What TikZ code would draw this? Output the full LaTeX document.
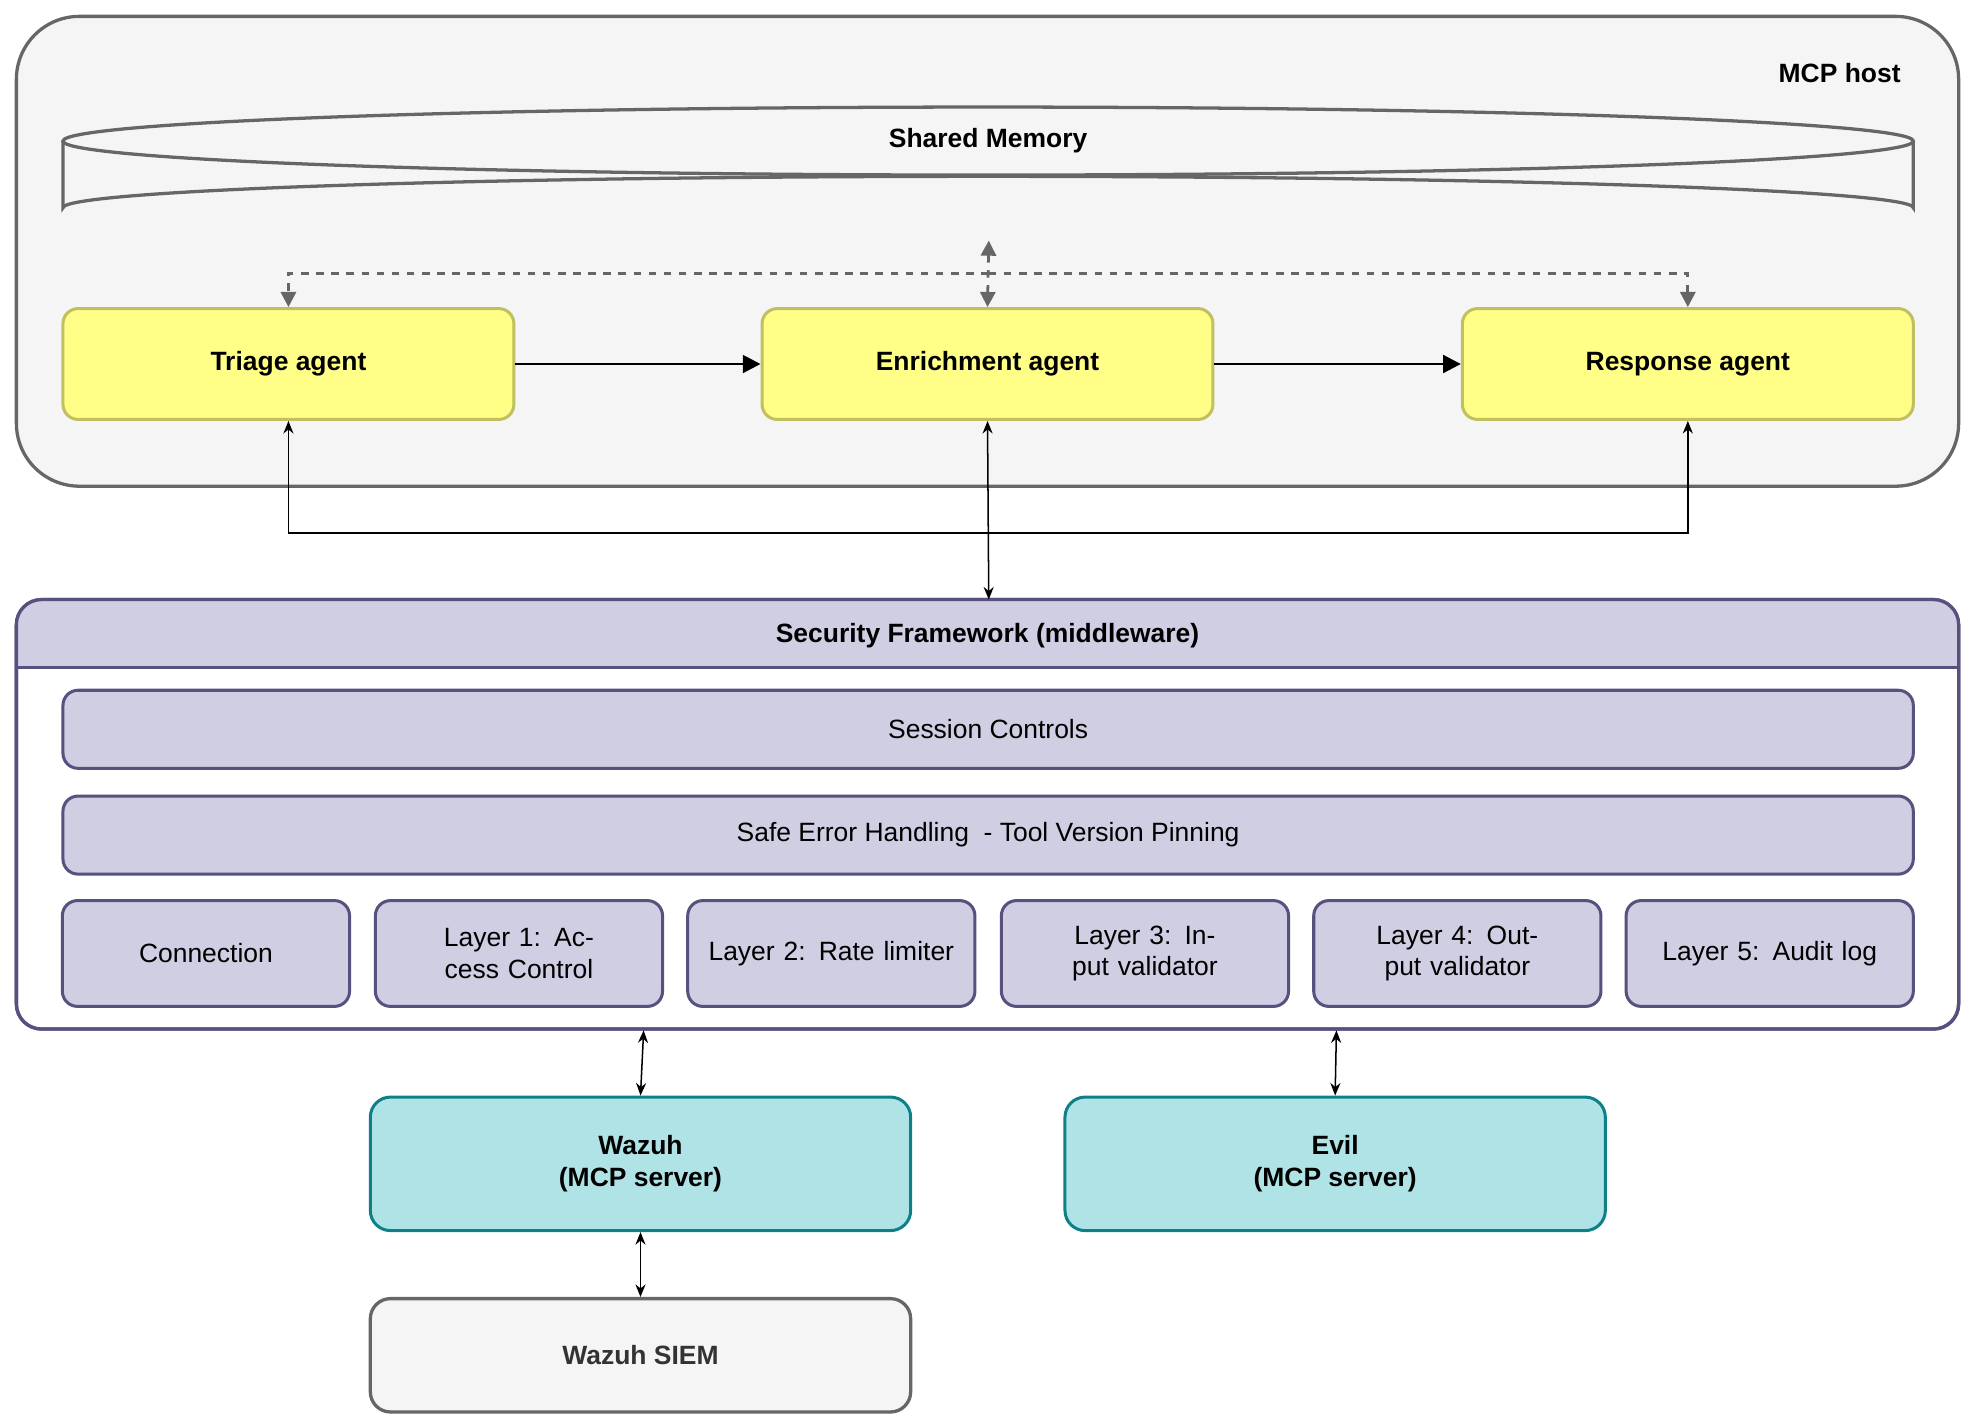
\documentclass[tikz,border=0pt]{standalone}
\usepackage{fontspec}
\setmainfont{Liberation Sans}
\usepackage{tikz}
\usetikzlibrary{positioning,calc,arrows.meta}
\definecolor{hostgray}{HTML}{F5F5F5}
\definecolor{linegray}{HTML}{666666}
\definecolor{agentfill}{HTML}{FFFF88}
\definecolor{agentdraw}{HTML}{C0C060}
\definecolor{secfill}{HTML}{D0CEE2}
\definecolor{secdraw}{HTML}{56517E}
\definecolor{srvfill}{HTML}{B0E3E6}
\definecolor{srvdraw}{HTML}{0E8088}
\tikzset{txt/.style={font=\fontsize{10.5}{12.5}\selectfont, align=center}}
\tikzset{agent/.style={txt, font=\fontsize{10.5}{12.5}\selectfont\bfseries, draw=agentdraw, fill=agentfill, line width=1.2pt, rounded corners=6pt, minimum width=179pt, minimum height=44pt}}
\tikzset{layer/.style={txt, draw=secdraw, fill=secfill, line width=1.2pt, rounded corners=6pt, minimum height=42pt, minimum width=114pt, text width=100pt}}
\tikzset{band/.style={txt, draw=secdraw, fill=secfill, line width=1.2pt, rounded corners=6pt, minimum height=31pt, minimum width=734.5pt}}
\tikzset{server/.style={txt, font=\fontsize{10.5}{12.5}\selectfont\bfseries, draw=srvdraw, fill=srvfill, line width=1.2pt, rounded corners=8pt, minimum width=214.5pt, minimum height=53pt}}
\tikzset{arr/.style={draw, -{Triangle[length=7pt,width=7pt]}, line width=1.1pt}}
\tikzset{arr1/.style={draw, {Stealth[length=5pt,width=4pt]}-{Stealth[length=5pt,width=4pt]}, line width=0.6pt}}
\tikzset{darr/.style={draw=linegray, dashed, line width=1.1pt, -{Triangle[length=6pt,width=6pt]}}}
\begin{document}
\begin{tikzpicture}[x=0.5pt, y=-0.5pt]
\useasboundingbox (0,0) rectangle (1568,1133);
% host
\draw[draw=linegray, fill=hostgray, line width=1.3pt, rounded corners=25pt] (13,13) rectangle (1555,386);
\node[txt, font=\fontsize{10.5}{12.5}\selectfont\bfseries, anchor=east] (host) at (1516,58) {MCP host};
% shared memory
\draw[draw=linegray, fill=hostgray, line width=1.3pt] (50,112) -- (50,165) arc[start angle=180, end angle=360, x radius=734.5, y radius=25] -- (1519,112);
\draw[draw=linegray, fill=hostgray, line width=1.3pt] (784.5,112) ellipse[x radius=734.5, y radius=27];
\node[txt, font=\fontsize{10.5}{12.5}\selectfont\bfseries] (mem) at (784.5,112) {Shared Memory};
\coordinate (memb) at (785,191);
% agents
\node[agent] (triage) at (229,289) {Triage agent};
\node[agent] (enrich) at (784,289) {Enrichment agent};
\node[agent] (resp) at (1340,289) {Response agent};
\draw[arr] (triage) -- (enrich);
\draw[arr] (enrich) -- (resp);
\draw[darr, {Triangle[length=6pt,width=6pt]}-{Triangle[length=6pt,width=6pt]}] (memb) -- (enrich.north);
\draw[darr] (785,217) -| (triage.north);
\draw[darr] (785,217) -| (resp.north);
% security framework
\draw[draw=secdraw, fill=white, line width=1.3pt, rounded corners=10pt] (13,476) rectangle (1555,817);
\path[fill=secfill, rounded corners=10pt] (13,530) -- (13,476) -- (1555,476) [sharp corners] -- (1555,530) -- cycle;
\draw[draw=secdraw, line width=1.3pt, rounded corners=10pt] (13,817) rectangle (1555,476);
\draw[draw=secdraw, line width=1.3pt] (13,530) -- (1555,530);
\node[txt, font=\fontsize{10.5}{12.5}\selectfont\bfseries] (sec) at (784,505) {Security Framework (middleware)};
\coordinate (sectop) at (785,476);
\node[band] (session) at (784.5,579) {Session Controls};
\node[band] (safe) at (784.5,663) {Safe Error Handling\ \ - Tool Version Pinning};
\node[layer] (conn) at (163.5,757) {Connection};
\node[layer] (l1) at (412,757) {Layer 1: Access Control};
\node[layer] (l2) at (660,757) {Layer 2: Rate limiter};
\node[layer] (l3) at (909,757) {Layer 3: Input validator};
\node[layer] (l4) at (1157,757) {Layer 4: Output validator};
\node[layer] (l5) at (1405,757) {Layer 5: Audit log};
% agent links
\draw[arr1] (enrich.south) -- (sectop);
\draw[arr1] (triage.south) |- (785,423) -| (resp.south);
% servers
\node[server] (wazuh) at (508.5,924) {Wazuh\\(MCP server)};
\node[server] (evil) at (1060,924) {Evil\\(MCP server)};
\node[txt, font=\fontsize{10.5}{12.5}\selectfont\bfseries, text=black!80, draw=linegray, fill=hostgray, line width=1.3pt, rounded corners=8pt, minimum width=214.5pt, minimum height=45pt] (siem) at (508.5,1076) {Wazuh SIEM};
\coordinate (fwa) at (511,818);
\coordinate (fwb) at (1061,818);
\draw[arr1] (fwa) -- (wazuh.north);
\draw[arr1] (fwb) -- (evil.north);
\draw[arr1] (wazuh.south) -- (siem.north);
\end{tikzpicture}
\end{document}
